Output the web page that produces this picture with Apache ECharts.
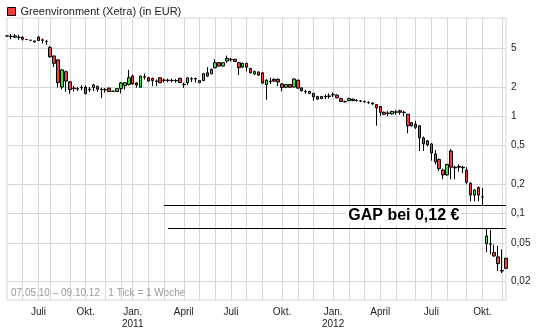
<!DOCTYPE html>
<html><head><meta charset="utf-8">
<script src="https://cdn.jsdelivr.net/npm/echarts@6/dist/echarts.min.js"></script>
<style>html,body{margin:0;padding:0;background:#fff}#c{width:543px;height:332px}</style>
</head><body><div id="c"></div>
<script>
const seriesName = 'Greenvironment (Xetra) (in EUR)';
const caption = '07.05.10 \u2013 09.10.12   1 Tick = 1 Woche';
const gapText = 'GAP bei 0,12 \u20ac';

// weekly OHLC (EUR)
const opens = [6.7,6.6,6.5,6.5,6.5,6.15,6.05,5.8,6.5,6.1,5.9,5.1,4.17,3.8,2.0,2.87,2.26,1.95,1.92,1.98,
2.0,1.9,1.97,2.03,1.9,1.88,1.95,1.81,1.8,1.93,2.07,2.12,2.59,2.2,1.99,2.55,2.49,2.45,2.3,2.49,
2.36,2.35,2.34,2.33,2.45,2.13,2.21,2.42,2.44,2.21,2.33,2.8,2.74,3.16,3.56,3.28,3.7,3.85,3.85,3.56,
3.2,3.5,3.1,2.72,2.85,2.8,2.12,2.3,2.4,2.4,2.15,1.99,2.12,2.0,2.35,1.96,1.8,1.8,1.72,1.6,
1.52,1.6,1.62,1.68,1.65,1.52,1.42,1.45,1.5,1.46,1.44,1.42,1.39,1.37,1.32,1.26,1.1,1.08,1.06,1.1,
1.14,1.1,1.05,0.86,0.83,0.8,0.6,0.56,0.52,0.41,0.36,0.28,0.25,0.44,0.3,0.305,0.3,0.28,0.205,0.155,
0.185,0.148,0.049,0.049,0.0397,0.0359,0.026,0.0348];
const closes = [6.7,6.65,6.7,6.45,6.2,6.15,6.05,5.95,6.0,6.05,5.85,4.1,3.5,2.22,3.0,2.3,1.88,1.93,1.9,1.97,
1.71,1.88,2.1,1.9,1.88,1.87,1.8,1.81,1.92,2.2,2.21,2.49,2.15,2.1,2.59,2.52,2.3,2.33,2.28,2.21,
2.34,2.34,2.33,2.32,2.22,2.12,2.49,2.44,2.42,2.33,2.74,2.59,3.03,3.56,3.28,3.56,3.94,3.82,3.66,3.16,
3.5,3.2,2.8,2.88,2.65,2.2,2.35,2.28,2.3,2.25,1.98,2.12,1.99,2.42,1.95,1.83,1.78,1.72,1.58,1.5,
1.6,1.58,1.6,1.66,1.55,1.42,1.41,1.52,1.45,1.45,1.43,1.41,1.38,1.34,1.22,1.1,1.05,1.07,1.12,1.11,
1.1,1.09,0.8,0.8,0.77,0.6,0.52,0.51,0.42,0.34,0.29,0.25,0.32,0.3,0.295,0.3,0.295,0.21,0.155,0.175,
0.155,0.148,0.059,0.0485,0.0367,0.0306,0.0257,0.0274];
const highs = [6.75,7.0,7.0,6.9,6.6,6.2,6.08,6.0,6.7,6.3,6.1,5.3,4.2,3.85,3.05,2.95,2.3,2.05,2.0,2.08,
2.07,2.0,2.15,2.07,1.97,1.95,1.97,1.82,1.95,2.25,2.25,3.0,2.69,2.25,2.62,2.75,2.55,2.5,2.39,2.52,
2.45,2.44,2.45,2.42,2.5,2.22,2.52,2.52,2.5,2.35,2.8,3.2,3.1,3.85,3.6,3.6,4.2,4.0,3.9,3.6,
3.55,3.55,3.15,2.95,2.9,2.85,2.4,2.5,2.45,2.45,2.2,2.15,2.15,2.45,2.38,1.98,1.88,1.83,1.74,1.62,
1.62,1.68,1.72,1.76,1.68,1.55,1.45,1.55,1.52,1.5,1.47,1.45,1.43,1.39,1.34,1.28,1.12,1.13,1.14,1.16,
1.17,1.14,1.06,0.87,0.9,0.81,0.62,0.57,0.53,0.45,0.37,0.29,0.325,0.46,0.31,0.32,0.31,0.3,0.21,0.178,
0.19,0.183,0.0703,0.068,0.048,0.0465,0.043,0.035];
const lows = [6.65,6.2,6.4,6.1,6.0,6.1,6.02,5.75,5.95,5.6,5.45,4.0,3.2,1.97,1.9,1.79,1.7,1.8,1.82,1.85,
1.68,1.78,1.82,1.78,1.54,1.75,1.78,1.8,1.78,1.72,1.88,2.07,2.12,1.97,1.97,2.38,2.28,2.04,2.04,2.2,
2.22,2.24,2.24,2.22,2.2,1.96,2.1,2.25,2.22,2.2,2.3,2.55,2.7,3.1,3.25,3.25,3.55,3.65,3.6,2.65,
3.15,2.9,2.75,2.65,2.6,2.15,1.48,2.15,2.25,2.05,1.8,1.95,1.95,1.98,1.92,1.8,1.7,1.7,1.45,1.48,
1.5,1.5,1.52,1.58,1.53,1.4,1.38,1.43,1.43,1.42,1.4,1.38,1.34,1.31,0.8,1.01,1.03,1.0,1.04,1.04,
1.04,1.0,0.67,0.78,0.74,0.44,0.44,0.49,0.35,0.32,0.275,0.225,0.245,0.225,0.225,0.27,0.26,0.2,0.134,0.134,
0.134,0.1226,0.04,0.038,0.036,0.0257,0.0245,0.027];

// week categories (Fridays from 07.05.10)
const categories = [];
for (let k = 0; k < opens.length; k++) {
  const d = new Date(Date.UTC(2010, 4, 7 + 7 * k));
  categories.push(String(d.getUTCDate()).padStart(2,'0') + '.' + String(d.getUTCMonth()+1).padStart(2,'0') + '.' + String(d.getUTCFullYear()).slice(2));
}

// axis ticks
const quarterIdx = [8, 20, 32, 45, 57, 70, 83, 95, 108, 121];
const quarterLabels = ['Juli', 'Okt.', 'Jan.\n2011', 'April', 'Juli', 'Okt.', 'Jan.\n2012', 'April', 'Juli', 'Okt.'];
const monthIdx = [4, 8, 11, 16, 20, 25, 29, 32, 36, 40, 45, 49, 53, 57, 61, 65, 70, 74, 78, 83, 87, 91, 95, 99, 104, 108, 112, 117, 121, 126];
const yTicks = [5, 2, 1, 0.5, 0.2, 0.1, 0.05, 0.02];
const yTickLabels = ['5', '2', '1', '0,5', '0,2', '0,1', '0,05', '0,02'];
const yMin = 0.01294, yMax = 10.24;

// gap annotation
const gapTop = 0.1226, gapBottom = 0.0703;
const gapTopStart = 40, gapBottomStart = 41, gapTextIdx = 101, gapTextValue = 0.0945;

const L = Math.log10;
const FONT = "'Liberation Sans', Arial, sans-serif";
const candleData = opens.map((o, i) => [L(o), L(closes[i]), L(lows[i]), L(highs[i])]);
const last = categories[categories.length - 1];

const chart = echarts.init(document.getElementById('c'), null, {renderer: 'canvas'});
chart.setOption({
  animation: false,
  backgroundColor: '#fff',
  textStyle: {fontFamily: FONT},
  title: {
    text: caption, left: 11, top: 288, padding: 0,
    textStyle: {fontSize: 10, color: '#9a9a9a', fontWeight: 'normal', fontFamily: FONT}
  },
  legend: {
    left: 7, top: 6, padding: 0, itemWidth: 8, itemHeight: 8, itemGap: 5, selectedMode: false,
    textStyle: {fontSize: 11, color: '#222', fontFamily: FONT, padding: [0,0,0,0]},
    data: [{name: seriesName, icon: 'rect', itemStyle: {color: '#f23d3d', borderColor: '#000', borderWidth: 1}}]
  },
  grid: {left: 7, right: 37, top: 18, bottom: 32, show: true, borderColor: '#d6d6d6', borderWidth: 1, containLabel: false},
  xAxis: {
    type: 'category', data: categories, boundaryGap: false,
    axisLine: {show: false}, axisTick: {show: false},
    axisLabel: {
      interval: (idx) => quarterIdx.includes(idx),
      formatter: (v, idx) => { const k = quarterIdx.indexOf(idx); return k >= 0 ? quarterLabels[k] : ''; },
      fontSize: 10, color: '#222', margin: 6, lineHeight: 12, fontFamily: FONT
    },
    splitLine: {show: true, interval: (idx) => monthIdx.includes(idx), lineStyle: {color: '#d6d6d6', width: 1}}
  },
  yAxis: {
    type: 'value', position: 'right', min: L(yMin), max: L(yMax), scale: true,
    axisLine: {show: false},
    axisTick: {show: false, customValues: yTicks.map(L)},
    axisLabel: {
      customValues: yTicks.map(L), fontSize: 10, color: '#222', margin: 5, fontFamily: FONT,
      formatter: (v) => { let b = 0; yTicks.forEach((t, k) => { if (Math.abs(L(t) - v) < Math.abs(L(yTicks[b]) - v)) b = k; }); return yTickLabels[b]; }
    },
    splitLine: {show: true, lineStyle: {color: '#d6d6d6', width: 1}}
  },
  series: [{
    name: seriesName, type: 'candlestick', data: candleData, barWidth: 3, clip: false,
    itemStyle: {color: '#3ee23e', color0: '#f23d3d', borderColor: '#000', borderColor0: '#000', borderColorDoji: '#000', borderWidth: 1},
    markLine: {
      silent: true, symbol: ['none', 'none'], label: {show: false},
      lineStyle: {color: '#000', width: 1, type: 'solid'},
      data: [
        [{coord: [categories[gapTopStart], L(gapTop)]}, {coord: [last, L(gapTop)]}],
        [{coord: [categories[gapBottomStart], L(gapBottom)]}, {coord: [last, L(gapBottom)]}]
      ]
    },
    markPoint: {
      silent: true, symbol: 'rect', symbolSize: 1, itemStyle: {color: 'rgba(0,0,0,0)'},
      data: [{coord: [categories[gapTextIdx], L(gapTextValue)],
        label: {show: true, position: 'inside', formatter: gapText, fontSize: 16, fontWeight: 'bold', color: '#000', fontFamily: FONT, backgroundColor: '#fff', padding: [1, 2]}}]
    }
  }]
});
</script>
</body></html>
